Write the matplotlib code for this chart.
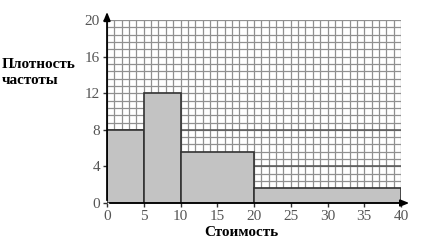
import matplotlib.pyplot as plt
import numpy as np

# данные гистограммы
edges_left = [0, 5, 10, 20]
widths = [5, 5, 10, 20]
density = [8, 12, 5.6, 1.6]
xticks = [0, 5, 10, 15, 20, 25, 30, 35, 40]
yticks = [0, 4, 8, 12, 16, 20]

fig = plt.figure(figsize=(4.22, 2.42), dpi=100)
ax = fig.add_axes([0.2536, 0.161, 0.6967, 0.756])
ax.set_xlim(0, 40)
ax.set_ylim(0, 20)

# сетка
for xv in np.arange(0, 40.01, 1):
    ax.axvline(xv, color='#909090', lw=0.9, zorder=1)
for yv in np.arange(0, 20.01, 0.8):
    ax.axhline(yv, color='#909090', lw=0.9, zorder=1)
for yv in [4, 8]:
    ax.axhline(yv, color='#555555', lw=1.1, zorder=1)

ax.bar(edges_left, density, width=widths, align='edge', color='#c3c3c3',
       edgecolor='#333333', linewidth=1.2, zorder=2)

for s in ['top', 'right', 'left', 'bottom']:
    ax.spines[s].set_visible(False)

# оси со стрелками
ax.annotate('', xy=(41.5, 0), xytext=(0, 0), xycoords='data',
            arrowprops=dict(arrowstyle='-|>,head_length=0.5,head_width=0.2', color='black', lw=1.3),
            annotation_clip=False, zorder=3)
ax.annotate('', xy=(0, 21.2), xytext=(0, 0), xycoords='data',
            arrowprops=dict(arrowstyle='-|>,head_length=0.5,head_width=0.2', color='black', lw=1.3),
            annotation_clip=False, zorder=3)

ax.set_xticks(xticks)
ax.set_yticks(yticks)
ax.tick_params(axis='both', length=3, width=1, color='#333333', labelcolor='#555555',
               labelsize=11, pad=2)
for lab in ax.get_xticklabels() + ax.get_yticklabels():
    lab.set_family('Liberation Serif')

fig.text(0.005, 0.70, 'Плотность\nчастоты', ha='left', va='center', fontsize=11,
         fontweight='bold', family='Liberation Serif', linespacing=1.25)
fig.text(0.573, 0.012, 'Стоимость', ha='center', va='bottom', fontsize=11,
         fontweight='bold', family='Liberation Serif')

fig.savefig('out.png', dpi=100)
